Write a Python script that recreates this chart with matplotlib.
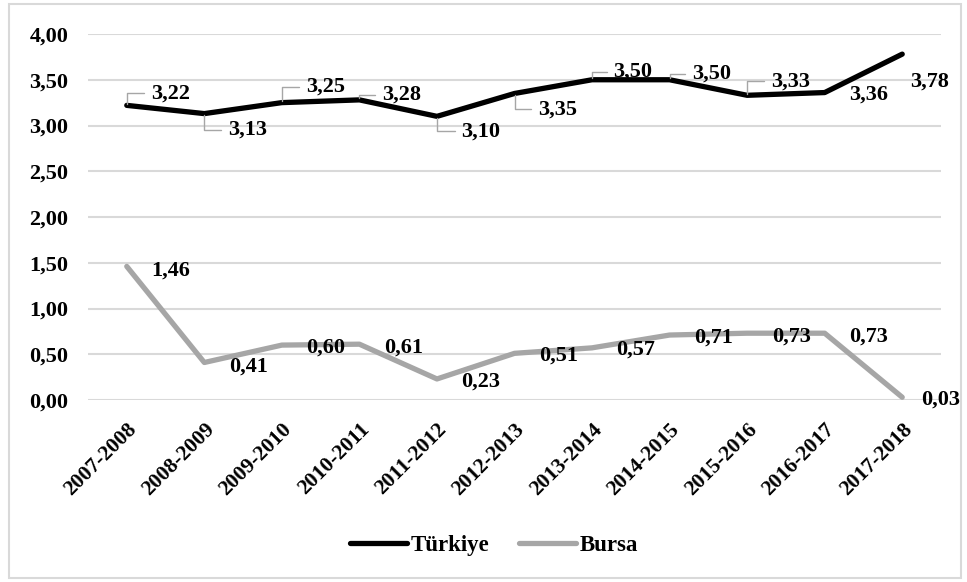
import matplotlib
matplotlib.use("Agg")
import matplotlib.pyplot as plt
from matplotlib.patches import Rectangle

# Data
seasons = ['2007-2008', '2008-2009', '2009-2010', '2010-2011', '2011-2012',
           '2012-2013', '2013-2014', '2014-2015', '2015-2016', '2016-2017',
           '2017-2018']
turkiye = [3.22, 3.13, 3.25, 3.28, 3.10, 3.35, 3.50, 3.50, 3.33, 3.36, 3.78]
bursa = [1.46, 0.41, 0.60, 0.61, 0.23, 0.51, 0.57, 0.71, 0.73, 0.73, 0.03]

# label offsets in pixels (dx, dy; dy positive = up), leader line on/off
tr_dx = [44, 43, 44, 42, 44, 43, 41, 42, 43, 44, 27]
tr_dy = [12, -16, 16, 5, -15, -16, 8, 6, 14, -2, -27]
tr_leader = [True] * 9 + [False, False]
bu_dx = [44, 44, 44, 44, 44, 44, 44, 44, 44, 44, 38]
bu_dy = [-4, -4, -2, -3, -3, -2, -2, -3, -3, -3, -2]

plt.rcParams['font.family'] = ['Liberation Serif', 'DejaVu Serif']
plt.rcParams['font.weight'] = 'bold'

fig = plt.figure(figsize=(9.67, 5.82), dpi=100)
ax = fig.add_axes([88/967, 1 - 400/582, (941 - 88)/967, (400 - 34)/582])

fig.patches.append(Rectangle((9/967, 4/582), 952/967, 574/582, transform=fig.transFigure,
                             fill=False, edgecolor='#d9d9d9', lw=1.5))

x = list(range(len(seasons)))
l1, = ax.plot(x, turkiye, color='black', lw=3.8, solid_capstyle='round', label='Türkiye', zorder=3)
l2, = ax.plot(x, bursa, color='#a6a6a6', lw=3.8, solid_capstyle='round', label='Bursa', zorder=3)

def fmt(v):
    return ('%.2f' % v).replace('.', ',')

for i, v in enumerate(turkiye):
    ap = None
    if tr_leader[i]:
        ap = dict(arrowstyle='-', color='#a6a6a6', lw=1.0, relpos=(0, 0.5),
                  connectionstyle='angle,angleA=0,angleB=90,rad=0', shrinkA=3, shrinkB=1)
    ax.annotate(fmt(v), (i, v), xytext=(tr_dx[i]*0.72, tr_dy[i]*0.72), textcoords='offset points',
                ha='center', va='center', fontsize=16, fontweight='bold', arrowprops=ap, zorder=4)

for i, v in enumerate(bursa):
    ax.annotate(fmt(v), (i, v), xytext=(bu_dx[i]*0.72, bu_dy[i]*0.72), textcoords='offset points',
                ha='center', va='center', fontsize=16, fontweight='bold', zorder=4)

ax.set_xlim(-0.5, len(seasons) - 0.5)
ax.set_ylim(0, 4)
ax.set_yticks([0, 0.5, 1, 1.5, 2, 2.5, 3, 3.5, 4])
ax.set_yticklabels([fmt(t) for t in ax.get_yticks()], fontsize=16, fontweight='bold')
ax.set_xticks(x)
ax.set_xticklabels(seasons, rotation=45, ha='right', va='top', rotation_mode='anchor',
                   fontsize=15.5, fontweight='bold')
ax.tick_params(axis='both', length=0)
ax.tick_params(axis='y', pad=14)
ax.tick_params(axis='x', pad=14)
ax.grid(axis='y', color='#d9d9d9', lw=1.5)
ax.set_axisbelow(True)
for s in ax.spines.values():
    s.set_visible(False)

fig.legend(handles=[l1, l2], loc='center', bbox_to_anchor=(494/967, 1 - 545/582), ncol=2,
           frameon=False, handlelength=2.5, handletextpad=0.15, columnspacing=1.3,
           prop={'weight': 'bold', 'size': 16.5})

fig.savefig('out.png', dpi=100)
